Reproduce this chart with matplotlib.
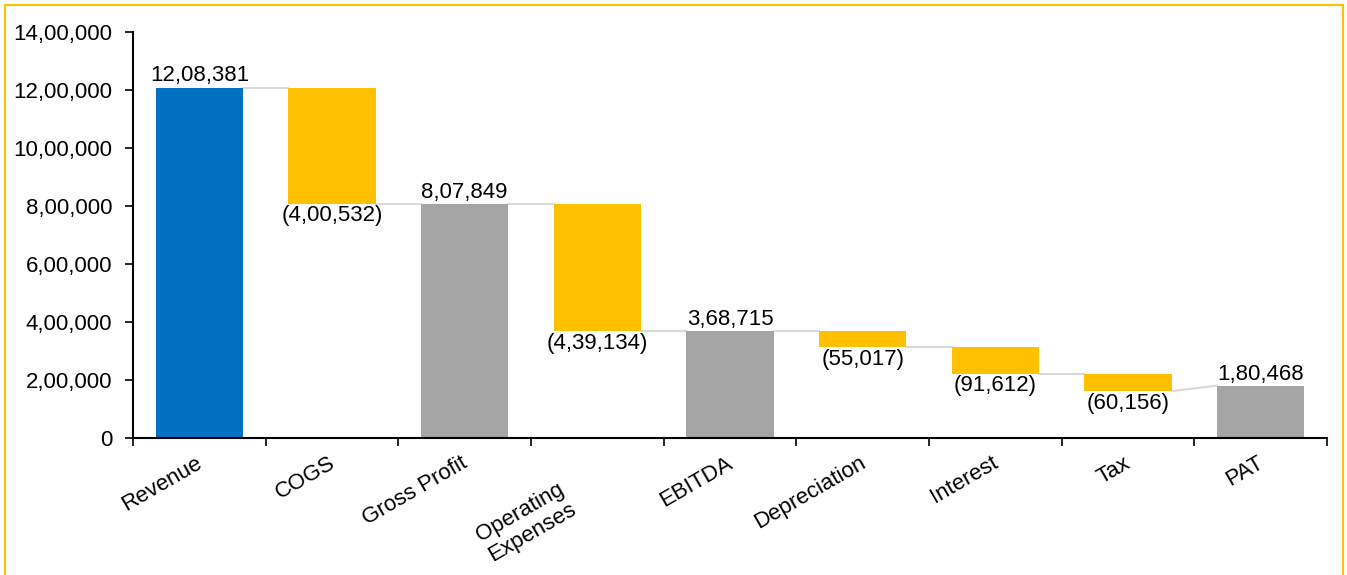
import matplotlib
matplotlib.use("Agg")
import matplotlib.pyplot as plt
from matplotlib.patches import Rectangle

categories = ["Revenue", "COGS", "Gross Profit", "Operating\nExpenses", "EBITDA",
              "Depreciation", "Interest", "Tax", "PAT"]
values = [1208381, -400532, 807849, -439134, 368715, -55017, -91612, -60156, 180468]
is_total = [True, False, True, False, True, False, False, False, True]
y_ticks = [0, 200000, 400000, 600000, 800000, 1000000, 1200000, 1400000]

BLUE = "#0070C0"
YELLOW = "#FFC000"
GREY = "#A5A5A5"
FS = 16

plt.rcParams['font.family'] = ['Liberation Sans', 'DejaVu Sans']


def indian(n):
    s = str(abs(int(n)))
    if len(s) > 3:
        head, tail = s[:-3], s[-3:]
        parts = []
        while len(head) > 2:
            parts.insert(0, head[-2:])
            head = head[:-2]
        if head:
            parts.insert(0, head)
        s = ",".join(parts) + "," + tail
    return s


fig = plt.figure(figsize=(13.47, 5.75), dpi=100)
ax = fig.add_axes([133 / 1347, 1 - 438 / 575, (1327 - 133) / 1347, (438 - 32) / 575])

width = 0.66
running = 0
bottoms, tops = [], []
for i, (v, t) in enumerate(zip(values, is_total)):
    if t:
        color = BLUE if i == 0 else GREY
        running = v
        ax.bar(i, v, bottom=0, width=width, color=color, zorder=2)
        ax.text(i, v + 4000, indian(v), ha='center', va='bottom', fontsize=FS)
        start, end = v, v
    else:
        start = running
        end = running + v
        ax.bar(i, start - end, bottom=end, width=width, color=YELLOW, zorder=2)
        ax.text(i, end - 6000, "(" + indian(v) + ")", ha='center', va='top', fontsize=FS)
        running = end
    bottoms.append(start)
    tops.append(end)

# connectors
for i in range(len(values) - 1):
    y0 = tops[i]
    y1 = bottoms[i + 1] if not is_total[i + 1] else values[i + 1]
    ax.plot([i + width / 2, i + 1 - width / 2], [y0, y1], color="#D9D9D9", lw=1.5, zorder=1)

ax.set_xlim(-0.5, len(categories) - 0.5)
ax.set_ylim(0, 1400000)
ax.set_yticks(y_ticks)
ax.set_yticklabels([indian(t) for t in y_ticks], fontsize=FS)
ax.set_xticks([i - 0.5 for i in range(len(categories) + 1)])
ax.set_xticklabels([])
ax.tick_params(axis='both', direction='out', length=6, width=1.2, colors='black')
ax.tick_params(axis='y', pad=9)
for i, c in enumerate(categories):
    dx, dy = -0.03, -50000
    if "\n" in c:
        dx, dy = -0.30, -140000
    ax.text(i + dx, dy, c, rotation=30, ha='right', va='top', rotation_mode='anchor',
            fontsize=FS, multialignment='center', linespacing=1.15)

for s in ['top', 'right']:
    ax.spines[s].set_visible(False)
for s in ['left', 'bottom']:
    ax.spines[s].set_linewidth(1.5)

fig.patches.append(Rectangle((5 / 1347, -0.05), (1343 - 5) / 1347, 1.05 - 5 / 575,
                             transform=fig.transFigure, fill=False, edgecolor=YELLOW, lw=1.5))

fig.savefig("out.png", dpi=100)
